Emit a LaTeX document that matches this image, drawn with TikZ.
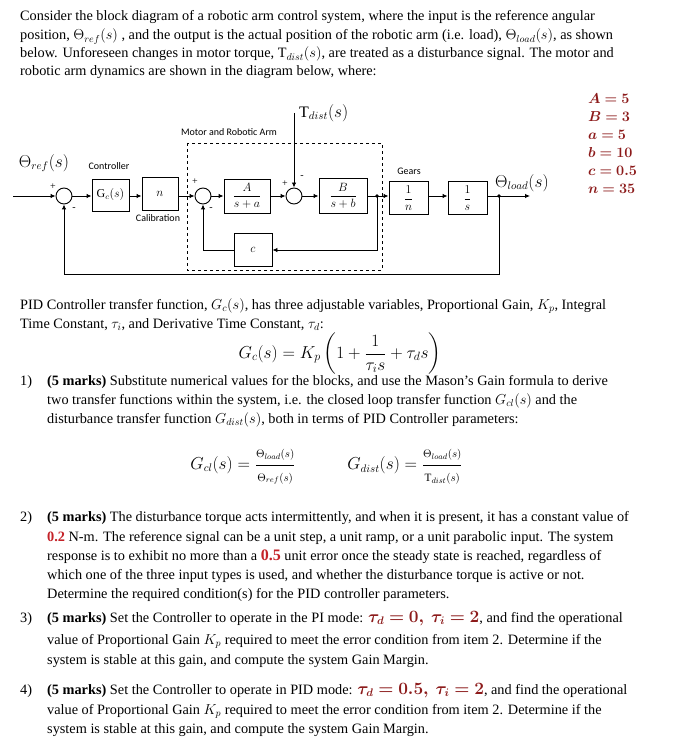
\documentclass[tikz,border=0pt]{standalone}
\usepackage{amsmath}
\usepackage{bm}
\usepackage{fontspec}
\setmainfont{Liberation Serif}
\newfontfamily\lblfont{Carlito}
\usetikzlibrary{arrows.meta, positioning}
\definecolor{darkred}{RGB}{140,26,26}
\definecolor{hired}{RGB}{196,34,40}

\begin{document}
\begin{tikzpicture}[
    x=1pt, y=-1pt,
    txt/.style={anchor=base west, inner sep=0pt, font=\fontsize{14.3}{16}\selectfont},
    box/.style={rectangle, draw=black, line width=0.9pt, inner sep=1pt, font=\fontsize{12}{13}\selectfont},
    sumc/.style={circle, draw=black, line width=0.9pt, minimum size=16pt, inner sep=0pt},
    sgn/.style={inner sep=0pt, font=\fontsize{10}{10}\selectfont},
    lbl/.style={inner sep=0pt, font=\lblfont\fontsize{10}{11}\selectfont},
    arrow/.style={line width=0.9pt, -{Latex[length=5pt,width=4.5pt]}},
    wire/.style={line width=0.9pt}
]
\useasboundingbox (0,0) rectangle (700,751);
\fill[white] (0,0) rectangle (700,751);

% opening paragraph
\node (l1) [txt] at (20,21) {Consider the block diagram of a robotic arm control system, where the input is the reference angular};
\node (l2) [txt] at (20,40) {position, $\Theta_{ref}(s)$ , and the output is the actual position of the robotic arm (i.e. load), $\Theta_{load}(s)$, as shown};
\node (l3) [txt] at (20,58) {below. Unforeseen changes in motor torque, $\mathrm{T}_{dist}(s)$, are treated as a disturbance signal. The motor and};
\node (l4) [txt] at (20,76) {robotic arm dynamics are shown in the diagram below, where:};

% block diagram
\draw[line width=0.7pt, dashed] (187,143) rectangle (382,270);
\node (mra) [lbl] at (229,132) {Motor and Robotic Arm};

\coordinate (in) at (13,196);
\node (s1) [sumc] at (64,196) {};
\node (gc) [box, minimum width=37pt, minimum height=32pt] at (110.5,195) {$\mathrm{G}_c(s)$};
\node (cal) [box, minimum width=36pt, minimum height=33pt] at (160,194) {$n$};
\node (s2) [sumc] at (203,196) {};
\node (ga) [box, minimum width=46pt, minimum height=34pt] at (247,196) {$\dfrac{A}{s+a}$};
\node (s3) [sumc] at (294,196) {};
\node (gb) [box, minimum width=48pt, minimum height=35pt] at (343,196) {$\dfrac{B}{s+b}$};
\coordinate (j1) at (377,196);
\node (gear) [box, minimum width=39pt, minimum height=33pt] at (408.5,198) {$\dfrac{1}{n}$};
\node (integ) [box, minimum width=39pt, minimum height=33pt] at (467.5,198) {$\dfrac{1}{s}$};
\coordinate (j2) at (499,196);
\coordinate (out) at (530,196);
\node (cfb) [box, minimum width=38pt, minimum height=33pt] at (253,250) {$c$};
\coordinate (td) at (294,113);
\coordinate (fb) at (499,274);

\node (ctl) [lbl] at (109,166) {Controller};
\node (calb) [lbl] at (158,218) {Calibration};
\node (gears) [lbl] at (409,171) {Gears};
\node (ref) [inner sep=0pt, font=\fontsize{16}{16}\selectfont] at (44,163) {$\Theta_{ref}(s)$};
\node (dist) [inner sep=0pt, anchor=west, font=\fontsize{16}{16}\selectfont] at (299,113) {$\mathrm{T}_{dist}(s)$};
\node (load) [inner sep=0pt, anchor=west, font=\fontsize{16}{16}\selectfont] at (495,183) {$\Theta_{load}(s)$};

\node [sgn] at (53,187) {+};
\node [sgn] at (74,209) {-};
\node [sgn] at (195,182) {+};
\node [sgn] at (211,209) {-};
\node [sgn] at (285,184) {+};
\node [sgn] at (302,177) {-};

\draw [arrow] (in) -- (s1.west);
\draw [arrow] (s1.east) -- (gc.west |- s1.east);
\draw [arrow] (gc.east |- s1.east) -- (cal.west |- s1.east);
\draw [arrow] (cal.east |- s1.east) -- (s2.west);
\draw [arrow] (s2.east) -- (ga.west);
\draw [arrow] (ga.east) -- (s3.west);
\draw [arrow] (td) -- (s3.north);
\draw [arrow] (s3.east) -- (gb.west);
\draw [wire] (gb.east) -- (j1);
\draw [arrow] (j1) -- (gear.west |- j1);
\draw [arrow] (gear.east |- j1) -- (integ.west |- j1);
\draw [wire] (integ.east |- j1) -- (j2);
\draw [arrow] (j2) -- (out);
\draw [arrow] (j1) |- (cfb.east);
\draw [arrow] (cfb.west) -| (s2.south);
\draw [arrow] (j2) -- (fb) -| (s1.south);
\fill (j1) circle (1.8pt);
\fill (j2) circle (1.8pt);

% parameter values
\node (pars) [anchor=north west, inner sep=0pt, align=left, text=darkred,
      font=\fontsize{14}{18}\selectfont] at (588,93)
      {$\bm{A=5}$\\ $\bm{B=3}$\\ $\bm{a=5}$\\ $\bm{b=10}$\\ $\bm{c=0.5}$\\ $\bm{n=35}$};

% PID controller
\node (p1) [txt] at (20,309) {PID Controller transfer function, $G_c(s)$, has three adjustable variables, Proportional Gain, $K_p$, Integral};
\node (p2) [txt] at (20,328) {Time Constant, $\tau_i$, and Derivative Time Constant, $\tau_d$:};
\node (gcf) [inner sep=0pt, font=\fontsize{16.5}{18}\selectfont] at (340,354)
      {$G_c(s) = K_p\left(1+\dfrac{1}{\tau_i s}+\tau_d s\right)$};

% item 1
\node (n1) [txt] at (20,385) {1)};
\node (a1) [txt] at (47,385) {\textbf{(5 marks)} Substitute numerical values for the blocks, and use the Mason's Gain formula to derive};
\node (a2) [txt] at (47,404) {two transfer functions within the system, i.e. the closed loop transfer function $G_{cl}(s)$ and the};
\node (a3) [txt] at (47,423) {disturbance transfer function $G_{dist}(s)$, both in terms of PID Controller parameters:};
\node (gcl) [inner sep=0pt, font=\fontsize{16}{18}\selectfont] at (243,467)
      {$G_{cl}(s) = \dfrac{\scriptstyle\Theta_{load}(s)}{\scriptstyle\Theta_{ref}(s)}$};
\node (gds) [inner sep=0pt, font=\fontsize{16}{18}\selectfont] at (405,467)
      {$G_{dist}(s) = \dfrac{\scriptstyle\Theta_{load}(s)}{\scriptstyle\mathrm{T}_{dist}(s)}$};

% item 2
\node (n2) [txt] at (20,521) {2)};
\node (b1) [txt] at (47,521) {\textbf{(5 marks)} The disturbance torque acts intermittently, and when it is present, it has a constant value of};
\node (b2) [txt] at (47,541) {\textcolor{hired}{\textbf{0.2}} N-m. The reference signal can be a unit step, a unit ramp, or a unit parabolic input. The system};
\node (b3) [txt] at (47,560) {response is to exhibit no more than a \textcolor{hired}{\fontsize{16}{16}\selectfont\textbf{0.5}} unit error once the steady state is reached, regardless of};
\node (b4) [txt] at (47,579) {which one of the three input types is used, and whether the disturbance torque is active or not.};
\node (b5) [txt] at (47,598) {Determine the required condition(s) for the PID controller parameters.};

% item 3
\node (n3) [txt] at (20,622) {3)};
\node (c1) [txt] at (47,622) {\textbf{(5 marks)} Set the Controller to operate in the PI mode: \textcolor{darkred}{\fontsize{16}{16}\selectfont$\bm{\tau_d=0,\ \tau_i=2}$}, and find the operational};
\node (c2) [txt] at (47,644) {value of Proportional Gain $K_p$ required to meet the error condition from item 2. Determine if the};
\node (c3) [txt] at (47,664) {system is stable at this gain, and compute the system Gain Margin.};

% item 4
\node (n4) [txt] at (20,694) {4)};
\node (d1) [txt] at (47,694) {\textbf{(5 marks)} Set the Controller to operate in PID mode: \textcolor{darkred}{\fontsize{16}{16}\selectfont$\bm{\tau_d=0.5,\ \tau_i=2}$}, and find the operational};
\node (d2) [txt] at (47,714) {value of Proportional Gain $K_p$ required to meet the error condition from item 2. Determine if the};
\node (d3) [txt] at (47,733) {system is stable at this gain, and compute the system Gain Margin.};
\end{tikzpicture}
\end{document}
